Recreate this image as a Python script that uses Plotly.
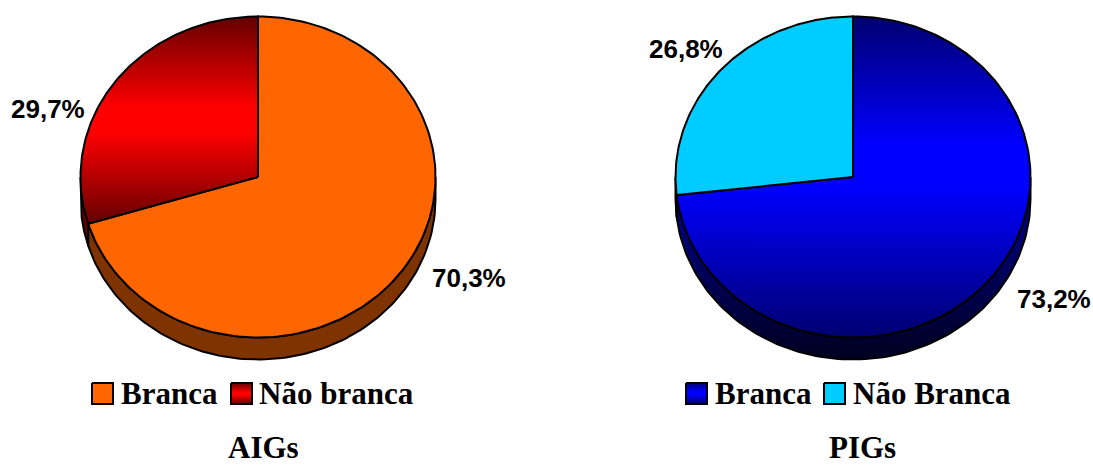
import numpy as np
import plotly.graph_objects as go

# ---- data ----
categories_aigs = ["Branca", "Não branca"]
values_aigs = [70.3, 29.7]
categories_pigs = ["Branca", "Não Branca"]
values_pigs = [73.2, 26.8]
chart_titles = ["AIGs", "PIGs"]

# ---- layout constants (pixels) ----
W, H = 1093, 465
CENTERS_X = [258, 853]
CY, RX, RY, DEPTH = 177, 177.5, 160.5, 22
XPAD, YTOP, YBOT = 1.05, 1.05, 1.2
INK = "#000000"
SERIF = "Liberation Serif, Times New Roman, serif"
SANS = "Liberation Sans, Arial, sans-serif"
LINE_W = 2

RED_STOPS = [[0, "#640000"], [0.44, "#FF0000"], [0.56, "#FF0000"], [1, "#640000"]]
BLUE_STOPS = [[0, "#000070"], [0.47, "#0000FF"], [0.6, "#0000FF"], [1, "#000070"]]

d = DEPTH / RY


def pt(theta):
    t = np.radians(theta)
    return np.sin(t), np.cos(t)


def sector(a, b):
    ts = np.linspace(a, b, 160)
    x, y = pt(ts)
    return np.r_[0, x, 0], np.r_[0, y, 0]


def wall(a, b):
    ts = np.linspace(a, b, 120)
    x, y = pt(ts)
    return np.r_[x, x[::-1], x[0]], np.r_[y, y[::-1] - d, y[0]]


def grad(stops):
    return dict(type="vertical", colorscale=stops)


def solid(c):
    return dict(fillcolor=c)


def add_poly(fig, x, y, xa, ya, name, style):
    fig.add_trace(go.Scatter(
        x=x, y=y, xaxis=xa, yaxis=ya, mode="lines", fill="toself", name=name,
        line=dict(color=INK, width=LINE_W), showlegend=False, hoverinfo="name", **style))


fig = go.Figure()

series = [
    dict(xa="x", ya="y", cats=categories_aigs, vals=values_aigs,
         top=[solid("#FF6600"), dict(fillgradient=grad(RED_STOPS))],
         side=[solid("#7F3300"), solid("#660000")]),
    dict(xa="x2", ya="y2", cats=categories_pigs, vals=values_pigs,
         top=[dict(fillgradient=grad(BLUE_STOPS)), solid("#00CCFF")],
         side=[dict(fillgradient=grad([[0, "#000020"], [1, "#00009A"]])), solid("#001A40")]),
]

for s in series:
    split = s["vals"][0] / sum(s["vals"]) * 360
    # side walls first (visible lower half only)
    x, y = wall(90, split)
    add_poly(fig, x, y, s["xa"], s["ya"], s["cats"][0], s["side"][0])
    x, y = wall(split, 270)
    add_poly(fig, x, y, s["xa"], s["ya"], s["cats"][1], s["side"][1])
    # top faces
    x, y = sector(0, split)
    add_poly(fig, x, y, s["xa"], s["ya"], s["cats"][0], s["top"][0])
    x, y = sector(split, 360)
    add_poly(fig, x, y, s["xa"], s["ya"], s["cats"][1], s["top"][1])

# legend swatches, on an overlay axis measured in pixels
swatches = [
    (92, 113, dict(fillcolor="#FF6600")),
    (231, 252, dict(fillgradient=grad(RED_STOPS))),
    (686, 707, dict(fillgradient=grad(BLUE_STOPS))),
    (824, 845, dict(fillcolor="#00CCFF")),
]
for x0, x1, style in swatches:
    fig.add_trace(go.Scatter(
        x=[x0, x1, x1, x0, x0], y=[383, 383, 404, 404, 383], xaxis="x3", yaxis="y3",
        mode="lines", fill="toself", line=dict(color=INK, width=LINE_W),
        showlegend=False, hoverinfo="skip", **style))


def ann(x, y, text, font, size, anchor="left", **kw):
    return dict(x=x / W, y=1 - y / H, xref="paper", yref="paper", text=text, showarrow=False,
                xanchor=anchor, yanchor="middle", borderpad=0,
                font=dict(family=font, size=size, color=INK), **kw)


def pct(v):
    return f"<b>{v:.1f}%</b>".replace(".", ",")


annotations = [
    ann(10, 109, pct(values_aigs[1]), SANS, 26),
    ann(431, 278, pct(values_aigs[0]), SANS, 26),
    ann(648, 49, pct(values_pigs[1]), SANS, 26),
    ann(1016, 299, pct(values_pigs[0]), SANS, 26),
    ann(120, 393.5, f"<b>{categories_aigs[0]}</b>", SERIF, 31),
    ann(258, 393.5, f"<b>{categories_aigs[1]}</b>", SERIF, 31),
    ann(714, 393.5, f"<b>{categories_pigs[0]}</b>", SERIF, 31),
    ann(852, 393.5, f"<b>{categories_pigs[1]}</b>", SERIF, 31),
    ann(263.5, 447, f"<b>{chart_titles[0]}</b>", SERIF, 31, "center"),
    ann(862, 447, f"<b>{chart_titles[1]}</b>", SERIF, 31, "center"),
]


def axis(rng, domain, anchor):
    return dict(range=rng, domain=domain, anchor=anchor, visible=False, fixedrange=True)


def xdom(cx):
    return [(cx - XPAD * RX) / W, (cx + XPAD * RX) / W]


ydom = [1 - (CY + YBOT * RY) / H, 1 - (CY - YTOP * RY) / H]

fig.update_layout(
    width=W, height=H, autosize=False,
    margin=dict(l=0, r=0, t=0, b=0),
    paper_bgcolor="#FFFFFF", plot_bgcolor="rgba(0,0,0,0)",
    showlegend=False,
    annotations=annotations,
    xaxis=axis([-XPAD, XPAD], xdom(CENTERS_X[0]), "y"),
    yaxis=axis([-YBOT, YTOP], ydom, "x"),
    xaxis2=axis([-XPAD, XPAD], xdom(CENTERS_X[1]), "y2"),
    yaxis2=axis([-YBOT, YTOP], ydom, "x2"),
    xaxis3=axis([0, W], [0, 1], "y3"),
    yaxis3=axis([H, 0], [0, 1], "x3"),
)

fig.write_html("out.html", config={"displayModeBar": False},
               post_script="document.body.style.margin='0';document.body.style.overflow='hidden';")
